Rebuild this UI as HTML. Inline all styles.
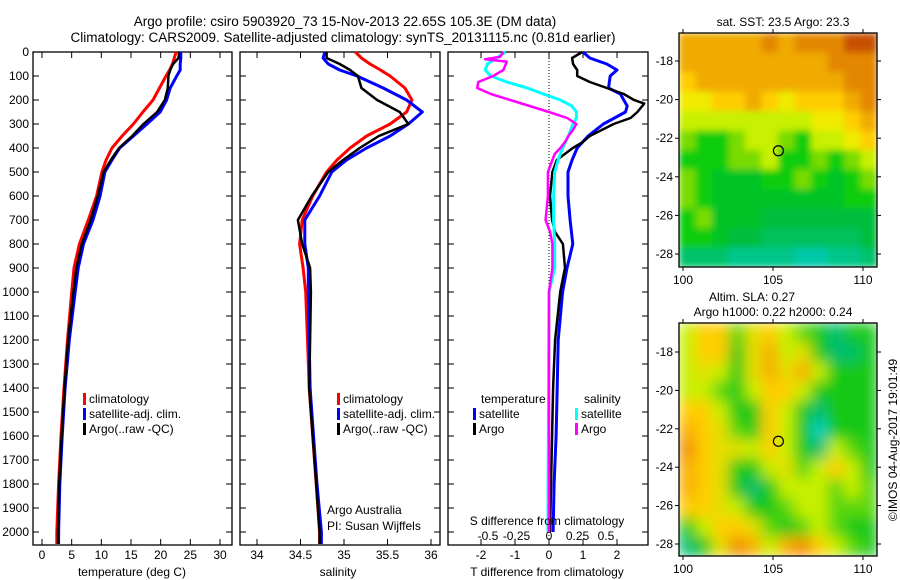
<!DOCTYPE html>
<html><head><meta charset="utf-8"><style>
body{margin:0;background:#fff;}
svg{display:block;font-family:"Liberation Sans",sans-serif;}
text{font-size:12px;fill:#000;}
</style></head><body>
<svg id="c" width="900" height="580" viewBox="0 0 900 580">
<defs>
<filter id="blurSst" filterUnits="userSpaceOnUse" x="679" y="33" width="198" height="234"><feGaussianBlur stdDeviation="3.5" edgeMode="duplicate"/></filter>
<filter id="blurSla" filterUnits="userSpaceOnUse" x="679" y="323" width="198" height="233"><feGaussianBlur stdDeviation="7" edgeMode="duplicate"/></filter>
</defs>
</svg>
<script>
// ---------- data ----------
const depthClim=[0,25,50,75,100,150,200,250,300,350,400,450,500,600,700,800,900,1000,1200,1400,1600,1800,2000,2050];
const tempClim=[22.6,22.3,22,21.5,20.9,19.8,18.7,17,15.4,13.5,11.8,10.8,10.1,9.2,7.8,6.3,5.4,5.0,4.3,3.7,3.2,2.8,2.5,2.5];
const tempSat=[23.4,23.4,23.3,23.3,22.7,21.6,21,19.9,17.7,15.4,13.1,11.8,10.6,9.8,8.6,7,6.1,5.6,4.6,3.9,3.4,3.0,2.8,2.8];
const tempArgo=[23.1,23,22.1,21.6,21.3,21.2,20.7,19.4,17.1,15.2,13,11.6,10.4,9.4,8.2,6.7,5.8,5.3,4.4,3.8,3.3,2.9,2.7,2.7];
const salClim=[35.13,35.2,35.3,35.42,35.53,35.7,35.78,35.72,35.53,35.26,35.07,34.92,34.8,34.64,34.52,34.49,34.53,34.56,34.58,34.6,34.64,34.68,34.72,34.72];
const salSat=[34.78,34.76,34.82,34.95,35.15,35.45,35.72,35.9,35.74,35.53,35.26,35.03,34.86,34.72,34.55,34.55,34.59,34.59,34.6,34.61,34.65,34.69,34.74,34.74];
const salArgo=[34.8,34.8,34.95,35.07,35.16,35.2,35.38,35.64,35.74,35.4,35.18,34.99,34.82,34.63,34.47,34.52,34.61,34.62,34.61,34.6,34.64,34.68,34.72,34.72];
const depthTsat=[0,25,50,75,100,150,175,200,225,250,300,350,400,450,500,600,700,800,900,1000,1200,1400,1600,1800,2000];
const diffTsat=[1.0,1.2,1.7,2.0,1.8,1.75,2.1,2.2,2.3,2.25,1.6,1.15,0.83,0.68,0.56,0.56,0.62,0.7,0.53,0.4,0.27,0.24,0.21,0.15,0.12];
const depthTargo=[0,25,50,75,100,125,150,175,200,215,250,275,300,350,375,400,450,500,600,700,750,800,900,1000,1200,1400,2000];
const diffTargo=[0.98,0.68,0.71,0.83,0.83,1.2,1.7,2.2,2.5,2.8,2.6,2.4,1.9,1.2,1.0,0.7,0.23,0.1,0.03,0.09,0.18,0.41,0.47,0.33,0.18,0.12,0.03];
const depthSsat=[0,50,75,100,125,150,175,200,225,250,275,300,350,400,450,500,600,700,800,900,1000,2000];
const diffSsat=[-0.38,-0.54,-0.56,-0.51,-0.37,-0.19,-0.05,0.1,0.2,0.24,0.24,0.21,0.17,0.12,0.08,0.05,0.04,0.04,0.05,0.05,0.0,-0.01];
const depthSargo=[0,20,30,40,75,100,125,150,175,200,225,250,275,300,325,350,375,400,425,450,500,600,700,750,800,900,1000,2000];
const diffSargo=[-0.4,-0.43,-0.56,-0.37,-0.4,-0.49,-0.62,-0.63,-0.51,-0.34,-0.17,0,0.16,0.24,0.21,0.17,0.14,0.1,0.05,0.03,-0.01,-0.01,-0.03,0.01,0.03,0.03,0.0,0.0];
const depthTicks=[0,100,200,300,400,500,600,700,800,900,1000,1100,1200,1300,1400,1500,1600,1700,1800,1900,2000];
const tempTicks=[0,5,10,15,20,25,30];
const salTicks=[34,34.5,35,35.5,36];
const tdiffTicks=[-2,-1,0,1,2];
const sdiffTicks=[-0.5,-0.25,0,0.25,0.5];
const latTicks=[-18,-20,-22,-24,-26,-28];
const lonTicks=[100,105,110];
const sstGrid=[
[4,4,4,4,4,4.5,4,4.5,4.5,4.5,5,5],
[4,4,4,4,4,4,4,4,4,4.5,4.5,4.5],
[3.5,4,4,4,4,4,4,4,4,4,4.5,4.5],
[3,3,3.5,3.5,4,3.5,3,3.5,3.5,3.5,4,4.5],
[2.5,2.5,2.5,2.5,2.5,2.5,2.5,2.5,3,3,3.5,4],
[2,1.5,1.5,2,2.5,2.5,2,1.5,2.5,2.5,3,3.5],
[1.5,1.5,1.5,2,2,2.5,1.5,1.5,2,1.5,2,2.5],
[2,1.5,1.2,1.2,1.2,1.5,1.5,2,1.5,1.2,1.5,2],
[2,1.5,1.2,1.2,1.2,1.2,1.2,1.2,1.2,1.2,1.5,1.5],
[1.5,2,1.2,1.2,1.2,1,1,1,1,1,1,1],
[1.5,1.5,1.2,1,1,0.8,0.8,0.8,0.8,0.8,0.8,1],
[0.7,0.7,0.7,0.5,0.5,0.5,0.5,0.3,0.3,0.5,0.5,0.7]];
const slaGrid=[
[2,3,3,1.5,2.5,3,2,1.5,1,0.5,1,1],
[2,3,3,1,2.5,3.5,2,2.5,1,0.5,0.5,1],
[2,2.5,2,1,2.5,3.5,2.5,3.5,2,1,1,1],
[2,2,1.5,1,2,3,3,2,1,1,1,1],
[3,3,2,1,1,3,2,1,0.5,1,1,1],
[3.5,3,2.5,1.5,1,3,2,1,0,1,1,1],
[4,3,2.5,2.5,2,3,2,1,0.5,2,1.5,1],
[3.5,3,2.5,1,1,2,2.5,1.5,2,3,2,1],
[3.5,3,2.5,1,0.5,1,2,2,2,1.5,2,1.5],
[3,3,2.5,2,1,1,1.5,2,2,1.5,1.5,1.5],
[1,2,3,3,2.5,1.5,1,1.5,2,1.5,1,1],
[0.5,1,2.5,4,3.5,2,3.5,4,3,2,1.5,1]];

// ---------- helpers ----------
const NS='http://www.w3.org/2000/svg';
const svg=document.getElementById('c');
function el(tag,attrs,parent){const e=document.createElementNS(NS,tag);for(const k in attrs)e.setAttribute(k,attrs[k]);(parent||svg).appendChild(e);return e;}
function txt(x,y,s,anchor,size){const t=el('text',{x:x,y:y,'text-anchor':anchor||'start'});if(size)t.style.fontSize=size+'px';t.textContent=s;return t;}
const yTop=52, yScale=0.24, yBot=545;
function yD(d){return yTop+d*yScale;}
function lin(d0,d1,p0,p1){return v=>p0+(v-d0)*(p1-p0)/(d1-d0);}

function panel(x0,x1,name,leftLabels){
  const r=el('rect',{x:x0,y:yTop,width:x1-x0,height:yBot-yTop,fill:'none',stroke:'#000','stroke-width':1.3});
  
  
  depthTicks.forEach(d=>{
    const y=yD(d);
    el('line',{x1:x0,y1:y,x2:x0+6,y2:y,stroke:'#000'});
    el('line',{x1:x1,y1:y,x2:x1-6,y2:y,stroke:'#000'});
    if(leftLabels){const t=txt(x0-4,y+4,String(d),'end');
      
      }
  });
}
function xticks(x0,x1,ticks,sx,labels,labelY){
  ticks.forEach(v=>{const x=sx(v);
    el('line',{x1:x,y1:yBot,x2:x,y2:yBot-6,stroke:'#000'});
    el('line',{x1:x,y1:yTop,x2:x,y2:yTop+6,stroke:'#000'});
    if(labels){const t=txt(x,labelY,String(v),'middle');
      
      }
  });
}
function series(vals,depths,sx,color,name,w){
  const pts=vals.map((v,i)=>sx(v).toFixed(1)+','+yD(depths[i]).toFixed(1)).join(' ');
  const p=el('polyline',{points:pts,fill:'none',stroke:color,'stroke-width':w||3,'stroke-linejoin':'round'});
  
  
}
function legend(x,y,color,label,name){
  const r=el('rect',{x:x,y:y-10,width:3,height:12,fill:color});
  
  
  const t=txt(x+6,y,label);
  
  
}

// ---------- titles ----------
let t=txt(345,26,'Argo profile: csiro 5903920_73 15-Nov-2013 22.65S 105.3E (DM data)','middle',13.5);


t=txt(343,42,'Climatology: CARS2009. Satellite-adjusted climatology: synTS_20131115.nc (0.81d earlier)','middle',13.5);



// ---------- panel 1 temperature ----------
const sxT=lin(0,30,42,220);
panel(33,232,'temperature-panel',true);
xticks(33,232,tempTicks,sxT,true,559);
series(tempClim,depthClim,sxT,'#ff0000','temp-climatology-line');
series(tempSat,depthClim,sxT,'#0000ff','temp-satellite-line');
series(tempArgo,depthClim,sxT,'#000000','temp-argo-line',2.5);
t=txt(132,576,'temperature (deg C)','middle');


legend(83,403,'#ff0000','climatology','legend-climatology');
legend(83,418,'#0000ff','satellite-adj. clim.','legend-satellite-adj');
legend(83,433,'#000000','Argo(..raw -QC)','legend-argo');

// ---------- panel 2 salinity ----------
const sxS=lin(34,36,257,431);
panel(240,440,'salinity-panel',false);
xticks(240,440,salTicks,sxS,true,559);
series(salClim,depthClim,sxS,'#ff0000','sal-climatology-line');
series(salSat,depthClim,sxS,'#0000ff','sal-satellite-line');
series(salArgo,depthClim,sxS,'#000000','sal-argo-line',2.5);
t=txt(338,576,'salinity','middle');


legend(337,403,'#ff0000','climatology','legend-climatology-2');
legend(337,418,'#0000ff','satellite-adj. clim.','legend-satellite-adj-2');
legend(337,433,'#000000','Argo(..raw -QC)','legend-argo-2');
t=txt(327,514,'Argo Australia');
t=txt(327,530,'PI: Susan Wijffels');

// ---------- panel 3 differences ----------
const sxTd=lin(0,2,549,617);
const sxSd=lin(0,0.5,549,606);
panel(448,648,'difference-panel',false);
xticks(448,648,tdiffTicks,sxTd,true,559);
sdiffTicks.forEach(v=>{const tt=txt(sxSd(v)-(v<0?4:0),540,String(v),'middle');
  
  });
el('line',{x1:549,y1:yTop,x2:549,y2:yBot,stroke:'#000','stroke-dasharray':'1,2','stroke-width':1});
series(diffTsat,depthTsat,sxTd,'#0000ff','tdiff-satellite-line');
series(diffTargo,depthTargo,sxTd,'#000000','tdiff-argo-line',2.5);
series(diffSsat,depthSsat,sxSd,'#00ffff','sdiff-satellite-line');
series(diffSargo,depthSargo,sxSd,'#ff00ff','sdiff-argo-line',2.5);
t=txt(547,525,'S difference from climatology','middle');
t=txt(547,576,'T difference from climatology','middle');
t=txt(481,403,'temperature');
t=txt(584,403,'salinity');
legend(473,418,'#0000ff','satellite','legend-t-satellite');
legend(473,433,'#000000','Argo','legend-t-argo');
legend(575,418,'#00ffff','satellite','legend-s-satellite');
legend(575,433,'#ff00ff','Argo','legend-s-argo');

// ---------- maps ----------
function lerpC(stops,v){
  for(let i=0;i<stops.length-1;i++){const a=stops[i],b=stops[i+1];
    if(v<=b[0]){const f=Math.max(0,(v-a[0])/(b[0]-a[0]));
      return 'rgb('+[1,2,3].map(k=>Math.round(a[k]+(b[k]-a[k])*f)).join(',')+')';}}
  const l=stops[stops.length-1];return 'rgb('+l[1]+','+l[2]+','+l[3]+')';
}
const sstStops=[[0,0,205,215],[1,0,190,60],[1.5,10,205,10],[2,120,220,0],[2.5,200,240,0],[3,240,235,0],[3.5,255,205,0],[4,240,170,0],[4.5,228,135,0],[5,200,80,0]];
const slaStops=[[0,0,205,190],[0.5,0,190,110],[1,20,200,20],[1.5,90,215,10],[2,200,240,0],[3,255,205,0],[4,240,140,0]];
function map(x0,y0,x1,y1,grid,stops,name,latY,circ,filt){
  const g=el('g',{filter:'url(#'+filt+')'});
  
  
  const rows=grid.length,cols=grid[0].length,cw=(x1-x0)/cols,ch=(y1-y0)/rows;
  grid.forEach((row,r)=>row.forEach((v,c)=>{
    const cell=el('rect',{x:(x0+c*cw).toFixed(2),y:(y0+r*ch).toFixed(2),width:(cw+0.6).toFixed(2),height:(ch+0.6).toFixed(2),fill:lerpC(stops,v)},g);
    
    
  }));
  el('rect',{x:x0,y:y0,width:x1-x0,height:y1-y0,fill:'none',stroke:'#000','stroke-width':1.3});
  const sLat=lin(-18,-28,latY[0],latY[1]), sLon=lin(100,110,683,863);
  latTicks.forEach(v=>{const y=sLat(v);
    el('line',{x1:x0,y1:y,x2:x0-4,y2:y,stroke:'#000'});
    el('line',{x1:x1,y1:y,x2:x1+4,y2:y,stroke:'#000'});
    const tt=txt(x0-6,y+4,String(v),'end');
    
    });
  lonTicks.forEach(v=>{const x=sLon(v);
    el('line',{x1:x,y1:y1,x2:x,y2:y1+4,stroke:'#000'});
    el('line',{x1:x,y1:y0,x2:x,y2:y0-4,stroke:'#000'});
    const tt=txt(x,y1+17,String(v),'middle');
    
    });
  const c=el('circle',{cx:sLon(105.3),cy:sLat(-22.65),r:5,fill:'none',stroke:'#000','stroke-width':1.2});
  
  
}
map(679,33,877,267,sstGrid,sstStops,'sst-map',[61,254],'sst-argo-location','blurSst');
map(679,323,877,556,slaGrid,slaStops,'sla-map',[352,544],'sla-argo-location','blurSla');
t=txt(783,26,'sat. SST: 23.5 Argo: 23.3','middle');
t=txt(752,301,'Altim. SLA: 0.27','middle');
t=txt(773,316,'Argo h1000: 0.22 h2000: 0.24','middle');
t=el('text',{x:0,y:0,transform:'translate(897,440) rotate(-90)','text-anchor':'middle'});
t.textContent='©IMOS 04-Aug-2017 19:01:49';


</script>
</body></html>
